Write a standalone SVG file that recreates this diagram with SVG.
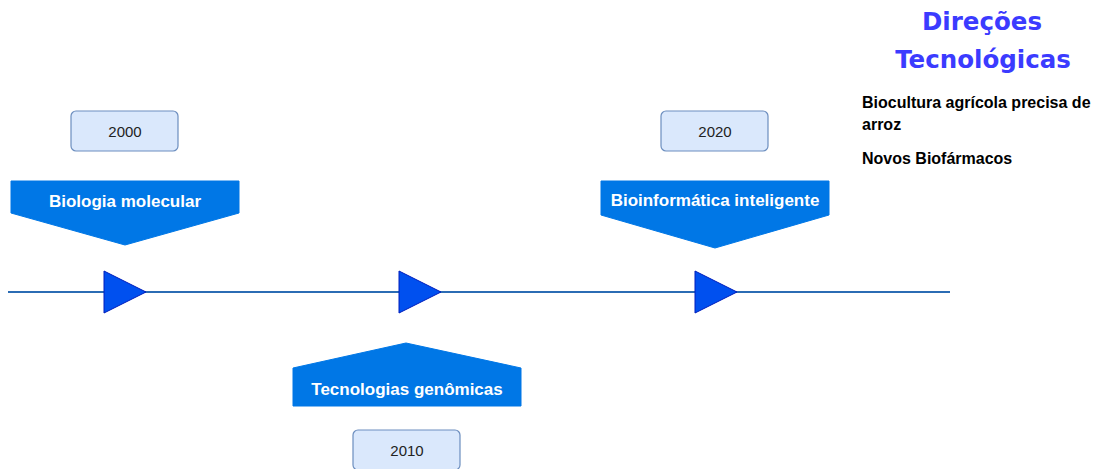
<svg xmlns="http://www.w3.org/2000/svg" width="1095" height="469" viewBox="0 0 1095 469">
<style>
.year rect{fill:#dae8fc;stroke:#6c8ebf;stroke-width:1.2}
.year text{font-family:"Liberation Sans",Arial,sans-serif;font-size:15px;fill:#222;text-anchor:middle}
.banner polygon{fill:#0077e6;stroke:#0077e6}
.banner text{font-family:"Liberation Sans",Arial,sans-serif;font-size:17px;font-weight:bold;fill:#fff;text-anchor:middle}
.tri{fill:#0050ef;stroke:#001dbc;stroke-width:1}
.title{font-family:"DejaVu Sans",Verdana,sans-serif;font-size:24.5px;font-weight:bold;fill:#3b3bff;text-anchor:middle}
.side{font-family:"Liberation Sans",Arial,sans-serif;font-size:16px;font-weight:bold;fill:#000}
</style>
<rect width="1095" height="469" fill="#fff"/>
<g id="connectors">
<line x1="8" y1="292" x2="950" y2="292" stroke="#2b6cb4" stroke-width="2"/>
</g>
<g id="marker1"><polygon class="tri" points="104,271 146,292 104,313"/></g>
<g id="marker2"><polygon class="tri" points="399,271 441,292 399,313"/></g>
<g id="marker3"><polygon class="tri" points="695,271 737,292 695,313"/></g>
<g id="year2000" class="year"><rect x="71" y="111" width="107" height="40" rx="5"/><text x="125" y="137">2000</text></g>
<g id="year2020" class="year"><rect x="661" y="111" width="107" height="40" rx="5"/><text x="715" y="137">2020</text></g>
<g id="year2010" class="year"><rect x="353" y="430" width="107" height="40" rx="5"/><text x="407" y="456">2010</text></g>
<g id="bio-molecular" class="banner"><polygon points="11,181 239,181 239,213 125,245 11,213"/><text x="125" y="207">Biologia molecular</text></g>
<g id="bioinformatica" class="banner"><polygon points="601,181 829,181 829,215 715,248 601,215"/><text x="715" y="206">Bioinformática inteligente</text></g>
<g id="tec-genomicas" class="banner"><polygon points="406,343 521,368 521,406 293,406 293,368"/><text x="407" y="395">Tecnologias genômicas</text></g>
<g id="direcoes">
<text class="title" x="982" y="30">Direções</text>
<text class="title" x="983" y="68">Tecnológicas</text>
<text class="side" x="862" y="108">Biocultura agrícola precisa de</text>
<text class="side" x="862" y="130">arroz</text>
<text class="side" x="862" y="164">Novos Biofármacos</text>
</g>
</svg>
